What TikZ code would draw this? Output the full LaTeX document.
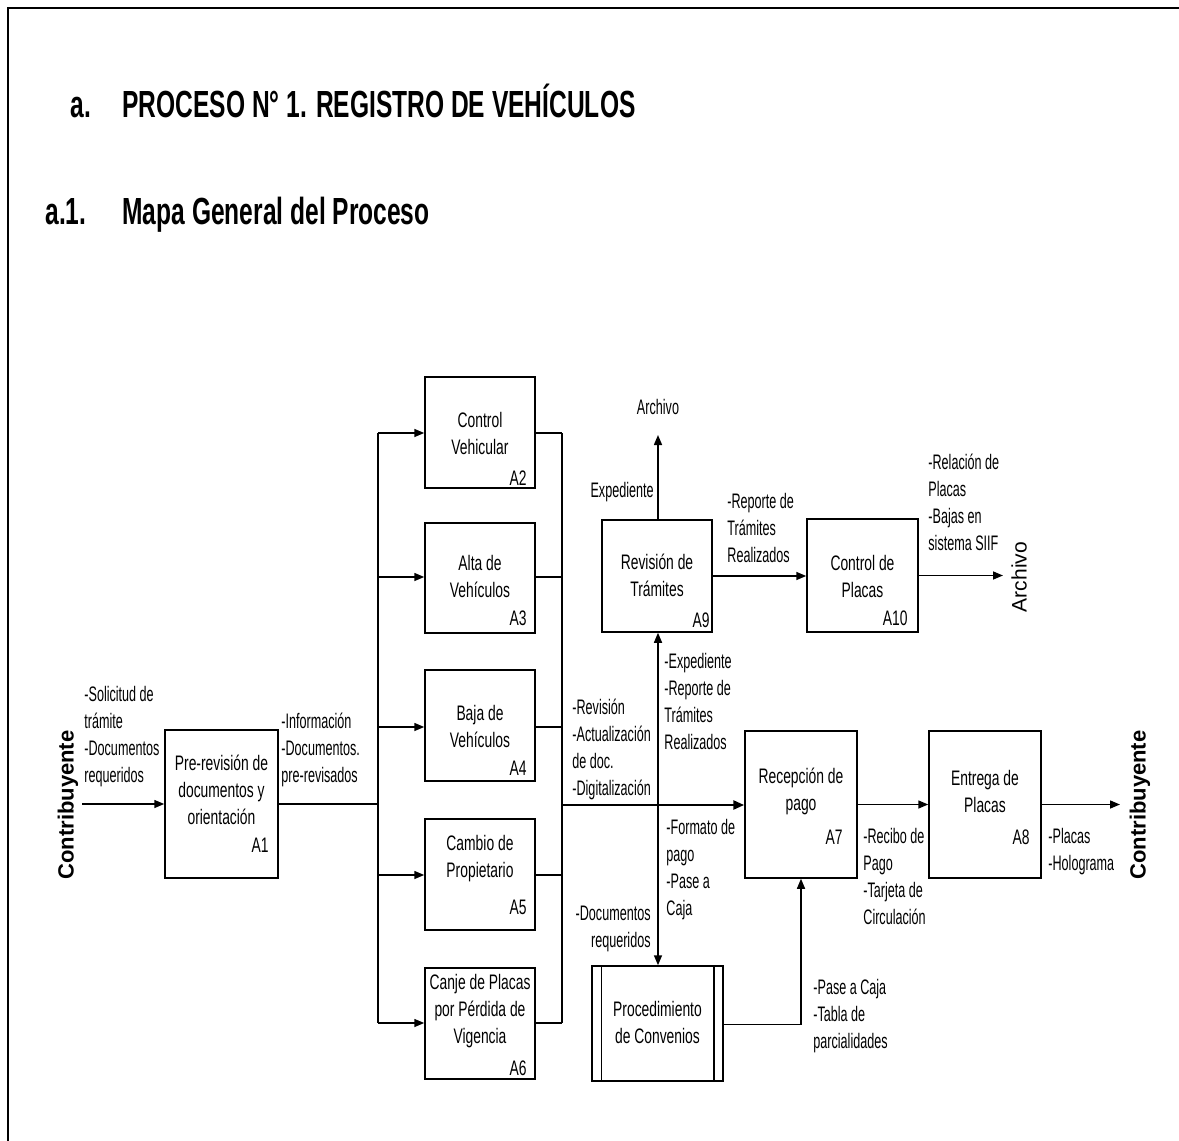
\documentclass[tikz,border=0pt]{standalone}
\usepackage{fontspec}
\setmainfont{Liberation Sans}
\newfontfamily\nfont[FakeStretch=0.66]{Liberation Sans}
\newfontfamily\lfont[FakeStretch=0.60]{Liberation Sans}
\newfontfamily\hfont[FakeStretch=0.65]{Liberation Sans}
\usetikzlibrary{arrows.meta,calc}
\tikzset{
  proc/.style={draw, line width=0.75pt, inner sep=0pt, minimum width=55pt, minimum height=55.5pt},
  txt/.style={font=\nfont\fontsize{10.5}{13.5}\selectfont, align=center, inner sep=0pt},
  lbl/.style={font=\lfont\fontsize{10.5}{13.5}\selectfont, align=left, inner sep=0pt, anchor=north west},
  idl/.style={font=\nfont\fontsize{10.5}{13}\selectfont, inner sep=0pt, anchor=east},
  con/.style={line width=0.75pt},
  arr/.style={line width=0.75pt, -{Triangle[length=5pt,width=4pt]}},
  mainarr/.style={line width=1.3pt, -{Triangle[length=5.5pt,width=4.5pt]}},
  rot/.style={rotate=90, inner sep=0pt},
  head/.style={font=\hfont\bfseries\fontsize{18.9}{20}\selectfont, anchor=base west, inner sep=0pt}
}
\begin{document}
\begin{tikzpicture}[x=0.5pt,y=-0.5pt]
\useasboundingbox (0,0) rectangle (1179,1141);
% frame
\draw[line width=1pt] (8,1141) -- (8,8) -- (1179,8);
% headings
\node[head] (ta) at (70,117) {a.};
\node[head] (tb) at (122,117) {PROCESO N° 1. REGISTRO DE VEHÍCULOS};
\node[head] (sa) at (45,224) {a.1.};
\node[head] (sb) at (122,224) {Mapa General del Proceso};

% boxes
\node[proc, minimum width=56.5pt, minimum height=74pt] (a1) at (221.5,804) {};
\node[proc] (a2) at (480,432.5) {};
\node[proc, minimum height=55pt] (a3) at (480,578) {};
\node[proc] (a4) at (480,725.5) {};
\node[proc] (a5) at (480,874.5) {};
\node[proc] (a6) at (480,1023.5) {};
\node[proc, minimum height=56pt] (a9) at (657,576) {};
\node[proc, minimum width=55.5pt, minimum height=56.5pt] (a10) at (862.5,575.5) {};
\node[proc, minimum width=56pt, minimum height=73.5pt] (a7) at (801,804.5) {};
\node[proc, minimum width=56pt, minimum height=73.5pt] (a8) at (985,804.5) {};
\node[proc, minimum width=65.5pt, minimum height=57.5pt] (pc) at (657.5,1023.5) {};
\draw[line width=0.75pt] ([xshift=5pt]pc.north west) -- ([xshift=5pt]pc.south west);
\draw[line width=0.75pt] ([xshift=-5pt]pc.north east) -- ([xshift=-5pt]pc.south east);

% box texts
\node[txt] (a1t) at (221.5,790) {Pre-revisión de\\documentos y\\orientación};
\node[txt] (a2t) at (480,433.5) {Control\\Vehicular};
\node[txt] (a3t) at (480,576.5) {Alta de\\Vehículos};
\node[txt] (a4t) at (480,726) {Baja de\\Vehículos};
\node[txt] (a5t) at (480,859) {Cambio de\\Propietario};
\node[txt] (a6t) at (480,1011) {Canje de Placas\\por Pérdida de\\Vigencia};
\node[txt] (a9t) at (657,575) {Revisión de\\Trámites};
\node[txt] (a10t) at (862.5,576) {Control de\\Placas};
\node[txt] (a7t) at (801,791) {Recepción de\\pago};
\node[txt] (a8t) at (985,791) {Entrega de\\Placas};
\node[txt] (pct) at (657.5,1022) {Procedimiento\\de Convenios};

% ids
\node[idl] (a1i) at (269,845) {A1};
\node[idl] (a2i) at (527,478) {A2};
\node[idl] (a3i) at (527,618) {A3};
\node[idl] (a4i) at (527,768) {A4};
\node[idl] (a5i) at (527,907) {A5};
\node[idl] (a6i) at (527,1068) {A6};
\node[idl] (a9i) at (710,620) {A9};
\node[idl] (a10i) at (908,618) {A10};
\node[idl] (a7i) at (843,837) {A7};
\node[idl] (a8i) at (1030,837) {A8};

% side entities
\node[rot, font=\bfseries\fontsize{11}{13}\selectfont] (c1) at (68,805) {Contribuyente};
\node[rot, font=\bfseries\fontsize{11}{13}\selectfont] (c2) at (1140,805) {Contribuyente};
\node[rot, font=\fontsize{10.5}{13}\selectfont] (arch2t) at (1019,577) {Archivo};
\node[lbl, anchor=center] (arch1t) at (658,407) {Archivo};

% coordinates
\coordinate (inL) at (82,804);
\coordinate (blm) at (378,804);
\coordinate (bl1) at (378,433);
\coordinate (bl2) at (378,577);
\coordinate (bl3) at (378,727);
\coordinate (bl4) at (378,875);
\coordinate (bl5) at (378,1023);
\coordinate (br1) at (562,433);
\coordinate (br2) at (562,577);
\coordinate (br3) at (562,727);
\coordinate (br4) at (562,875);
\coordinate (br5) at (562,1023);
\coordinate (brm) at (562,805);
\coordinate (jn) at (658,805);
\coordinate (arch1) at (658,435);
\coordinate (arch2) at (1003,575.5);
\coordinate (out) at (1120,804.5);

% connectors
\draw[arr] (inL) -- (a1.west);
\draw[con] (a1.east) -- (blm);
\draw[con] (bl1) -- (bl5);
\draw[arr] (bl1) -- (bl1 -| a2.west);
\draw[arr] (bl2) -- (bl2 -| a3.west);
\draw[arr] (bl3) -- (bl3 -| a4.west);
\draw[arr] (bl4) -- (bl4 -| a5.west);
\draw[arr] (bl5) -- (bl5 -| a6.west);
\draw[con] (br1 -| a2.east) -- (br1);
\draw[con] (br2 -| a3.east) -- (br2);
\draw[con] (br3 -| a4.east) -- (br3);
\draw[con] (br4 -| a5.east) -- (br4);
\draw[con] (br5 -| a6.east) -- (br5);
\draw[con] (br1) -- (br5);
\draw[mainarr] (brm) -- (brm -| a7.west);
\draw[arr] (jn) -- (jn |- a9.south);
\draw[arr] (jn) -- (jn |- pc.north);
\draw[arr] (jn |- a9.north) -- (arch1);
\draw[arr] (a9.east) -- (a9.east -| a10.west);
\draw[arr] (a10.east) -- (arch2);
\draw[arr] (a7.east) -- (a7.east -| a8.west);
\draw[arr] (a8.east) -- (out);
\draw[arr] ([yshift=-0.5pt]pc.east) -| (a7.south);

% labels
\node[lbl] (l1) at (84,686) {-Solicitud de\\trámite\\-Documentos\\requeridos};
\node[lbl] (l2) at (281,713) {-Información\\-Documentos.\\pre-revisados};
\node[lbl] (l3) at (572,699) {-Revisión\\-Actualización\\de doc.\\-Digitalización};
\node[lbl, anchor=east] (l4) at (654,492) {Expediente};
\node[lbl] (l6) at (727,493) {-Reporte de\\Trámites\\Realizados};
\node[lbl] (l7) at (928,454) {-Relación de\\Placas\\-Bajas en\\sistema SIIF};
\node[lbl] (l8) at (664,653) {-Expediente\\-Reporte de\\Trámites\\Realizados};
\node[lbl] (l9) at (666,819) {-Formato de\\pago\\-Pase a\\Caja};
\node[lbl, anchor=north east, align=right] (l10) at (651,906) {-Documentos\\requeridos};
\node[lbl] (l11) at (863,828) {-Recibo de\\Pago\\-Tarjeta de\\Circulación};
\node[lbl] (l12) at (1048,828) {-Placas\\-Holograma};
\node[lbl] (l13) at (813,979) {-Pase a Caja\\-Tabla de\\parcialidades};
\end{tikzpicture}
\end{document}
